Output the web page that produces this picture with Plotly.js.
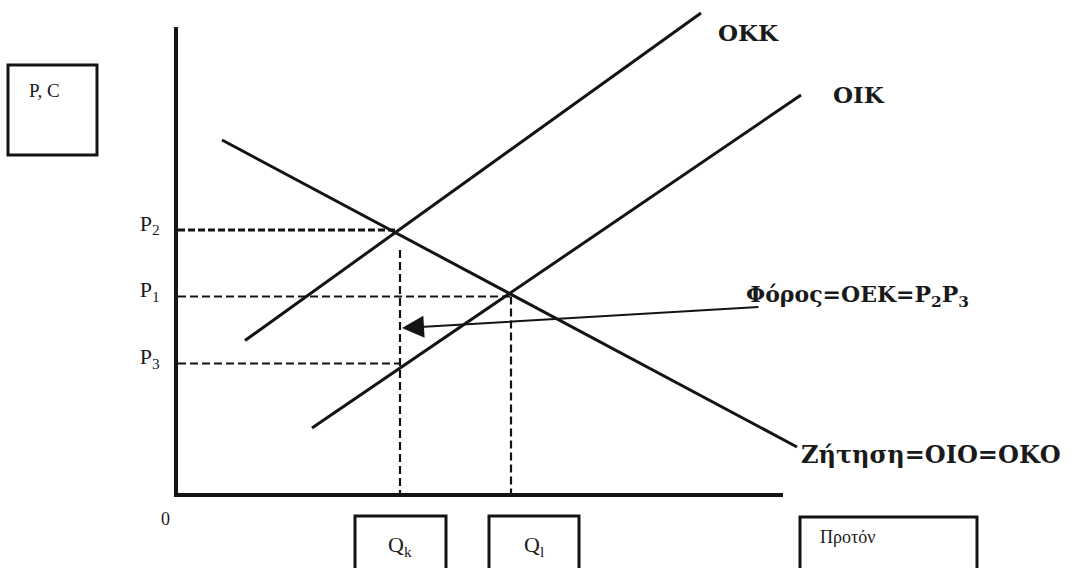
<!DOCTYPE html>
<html>
<head>
<meta charset="utf-8">
<script src="https://cdn.plot.ly/plotly-3.0.1.min.js"></script>
<style>
  html, body { margin: 0; padding: 0; background: #fff; }
  #chart { width: 1075px; height: 568px; }
</style>
</head>
<body>
<div id="chart"></div>
<script>
// curves (quantity, price)
var demandQ = [8.8, 123.8];
var demandP = [70.6, 9.2];
var okkQ = [13.4, 104.6];
var okkP = [30.5, 96.0];
var oikQ = [26.8, 124.6];
var oikP = [13.0, 79.6];

// equilibrium values
var qk = 44.4, q1 = 66.6, qCross = 43.4;
var p2 = 52.6, p1 = 39.3, p3 = 25.9;
var qkTop = 48.6;
var priceTicks = [p2, p1, p3];
var priceLabels = ['P<sub>2</sub>', 'P<sub>1</sub>', 'P<sub>3</sub>'];

// tax arrow: tail -> head
var arrowTail = [116.4, 37.2];
var arrowHead = [44.8, 33.0];

var W = 1075, H = 568;
var ink = '#141414';
var serif = 'Liberation Serif';
var boldSerif = 'DejaVu Serif';

// pixel -> paper helper, only for the boxes/labels around the plot
function at(px, py) {
    return {x: px / W, y: 1 - py / H, xref: 'paper', yref: 'paper'};
}

function curve(q, p) {
    return {
        type: 'scatter', mode: 'lines', x: q, y: p,
        xaxis: 'x', yaxis: 'y',
        line: {color: ink, width: 3}, hoverinfo: 'skip'
    };
}
function guide(q, p, dash, w) {
    return {
        type: 'scatter', mode: 'lines', x: q, y: p,
        xaxis: 'x2', yaxis: 'y2',
        line: {color: ink, width: w || 2.2, dash: dash || '8px,4px'}, hoverinfo: 'skip'
    };
}

var traces = [
    guide([0, qCross], [p2, p2], '7px,3px', 2.8),
    guide([0, q1], [p1, p1]),
    guide([0, qk], [p3, p3]),
    guide([qk, qk], [qkTop, 0]),
    guide([q1, q1], [p1, 0]),
    curve(demandQ, demandP),
    curve(okkQ, okkP),
    curve(oikQ, oikP)
];

function label(px, py, text, size, bold, anchor) {
    return Object.assign(at(px, py), {
        text: text,
        showarrow: false, xanchor: anchor || 'left', yanchor: 'middle',
        font: {family: bold ? boldSerif : serif, size: size, color: '#1a1a1a', weight: bold ? 700 : 400}
    });
}
function rect(x0, y0, x1, y1) {
    return {
        type: 'rect', xref: 'paper', yref: 'paper',
        x0: x0 / W, x1: x1 / W, y0: 1 - y0 / H, y1: 1 - y1 / H,
        line: {color: ink, width: 3}
    };
}

var annotations = [
    label(716, 32, 'ΟΚΚ', 23, true),
    label(831, 95, 'ΟΙΚ', 23, true),
    label(744, 296, 'Φόρος=ΟΕΚ=P<sub>2</sub>P<sub>3</sub>', 22, true),
    label(799, 454, 'Ζήτηση=ΟΙΟ=ΟΚΟ', 24, true),
    label(166, 519, '0', 18, false, 'center'),
    label(27, 91, 'P, C', 19, false),
    label(400, 546, 'Q<sub>k</sub>', 22, false, 'center'),
    label(534, 546, 'Q<sub>l</sub>', 22, false, 'center'),
    label(818, 537, 'Προτόν', 18, false),
    {
        x: arrowHead[0], y: arrowHead[1], ax: arrowTail[0], ay: arrowTail[1],
        xref: 'x', yref: 'y', axref: 'x', ayref: 'y',
        text: '', showarrow: true, arrowhead: 2, arrowsize: 2.2,
        arrowwidth: 2, arrowcolor: ink, standoff: 0
    }
];

var shapes = [
    rect(8, 65, 97, 155),
    rect(355, 516, 446, 590),
    rect(489, 516, 579, 590),
    rect(800, 517, 977, 590)
];

var layout = {
    width: W, height: H,
    margin: {l: 0, r: 0, t: 0, b: 0},
    paper_bgcolor: '#fff', plot_bgcolor: 'rgba(0,0,0,0)',
    showlegend: false,
    xaxis: {domain: [0, 1], range: [-178 / 5, (W - 178) / 5], visible: false, fixedrange: true},
    yaxis: {domain: [0, 1], range: [-(H - 493) / 5, 493 / 5], visible: false, fixedrange: true},
    xaxis2: {
        domain: [178 / W, 783 / W], range: [0, 121], anchor: 'y2',
        showline: true, linewidth: 4, linecolor: ink,
        showgrid: false, zeroline: false, showticklabels: false, ticks: ''
    },
    yaxis2: {
        domain: [(H - 493) / H, (H - 27) / H], range: [0, 93.2], anchor: 'x2',
        showline: true, linewidth: 4, linecolor: ink,
        showgrid: false, zeroline: false, ticks: '',
        tickvals: priceTicks, ticktext: priceLabels,
        ticklabelstandoff: 10, ticklabelshift: -7,
        tickfont: {family: serif, size: 22, color: '#1a1a1a'}
    },
    annotations: annotations,
    shapes: shapes
};

Plotly.newPlot('chart', traces, layout, {staticPlot: true});
</script>
</body>
</html>
